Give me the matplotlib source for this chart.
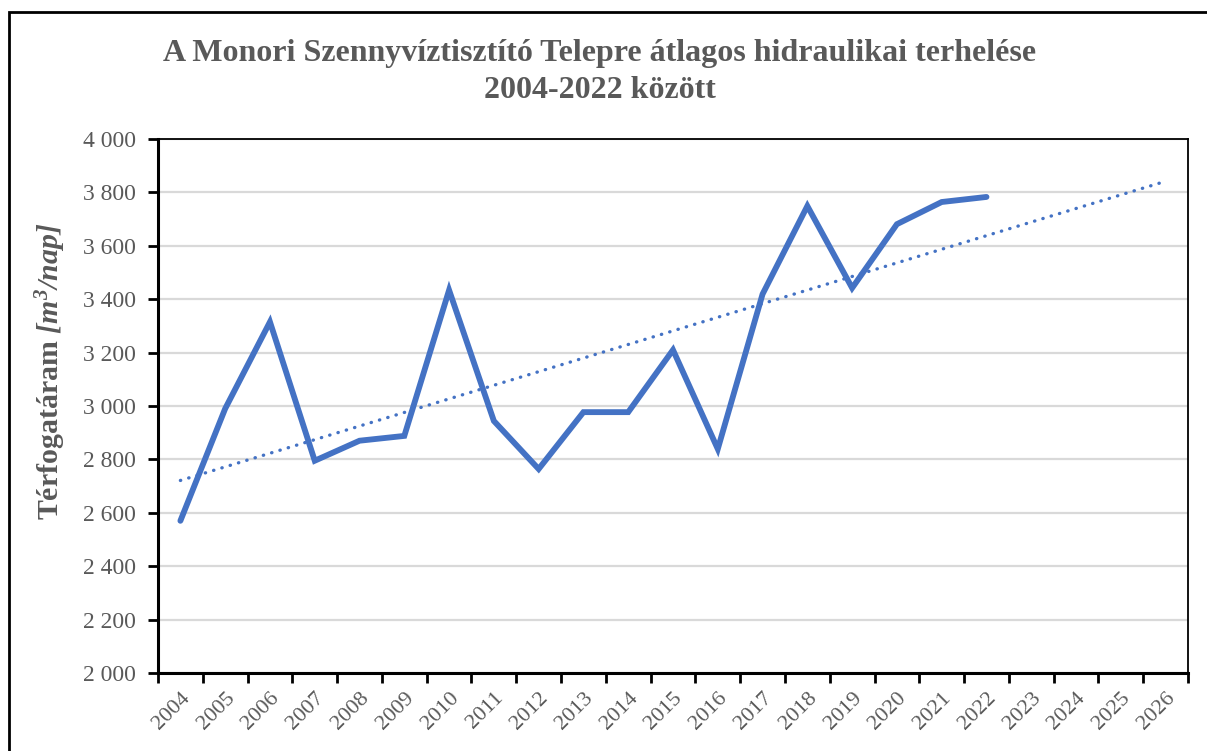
import numpy as np
import matplotlib
matplotlib.use('Agg')
import matplotlib.pyplot as plt
from matplotlib.patches import Rectangle
from matplotlib.ticker import FuncFormatter

# --- Data ---
years = [str(y) for y in range(2004, 2027)]
flow = [2570, 2990, 3315, 2795, 2870, 2888, 3434, 2944, 2764, 2977,
        2977, 3210, 2839, 3419, 3749, 3442, 3681, 3764, 3783]
y_ticks = [2000, 2200, 2400, 2600, 2800, 3000, 3200, 3400, 3600, 3800, 4000]

LINE_COLOR = '#4472C4'
TEXT_COLOR = '#595959'
GRID_COLOR = '#D9D9D9'

plt.rcParams['font.family'] = ['Liberation Serif', 'DejaVu Serif']
plt.rcParams['mathtext.fontset'] = 'custom'
plt.rcParams['mathtext.rm'] = 'Liberation Serif'
plt.rcParams['mathtext.it'] = 'Liberation Serif:italic'
plt.rcParams['mathtext.bf'] = 'Liberation Serif:bold'
plt.rcParams['mathtext.bfit'] = 'Liberation Serif:bold:italic'

fig = plt.figure(figsize=(12.07, 7.51), dpi=100)
ax = fig.add_axes([158 / 1207, 1 - 673 / 751, (1188 - 158) / 1207, (673 - 139) / 751])

x = np.arange(len(flow))
ax.plot(x, flow, color=LINE_COLOR, linewidth=4.2, solid_capstyle='round',
        solid_joinstyle='miter', zorder=3)

# linear trend, extended to the last category
coef = np.polyfit(x, flow, 1)
xt = np.arange(len(years))
ax.plot(xt, np.polyval(coef, xt), color=LINE_COLOR, linewidth=2.4,
        linestyle=(0, (0.1, 2.5)), dash_capstyle='round', zorder=2)

# axes
ax.set_xlim(-0.5, len(years) - 0.5)
ax.set_ylim(2000, 4000)
ax.set_yticks(y_ticks)
ax.yaxis.set_major_formatter(FuncFormatter(lambda v, p: f"{int(v):,}".replace(',', ' ')))
ax.grid(axis='y', color=GRID_COLOR, linewidth=1.6)
ax.set_axisbelow(True)

ax.set_xticks(np.arange(-0.5, len(years), 1.0))
ax.set_xticklabels([])
ax.set_xticks(xt, minor=True)
ax.set_xticklabels(years, minor=True, rotation=45, ha='right', rotation_mode='anchor')
ax.tick_params(axis='x', which='major', direction='out', length=7, width=2, color='black')
ax.tick_params(axis='x', which='minor', length=0, pad=11, labelsize=16, labelcolor=TEXT_COLOR)
ax.tick_params(axis='y', direction='out', length=7, width=2, color='black',
               labelsize=17, labelcolor=TEXT_COLOR, pad=9)

for side in ['left', 'bottom']:
    ax.spines[side].set_linewidth(2.2)
for side in ['top', 'right']:
    ax.spines[side].set_linewidth(1.3)

ax.set_ylabel(r'Térfogatáram $\mathbfit{[m^3/nap]}$', fontsize=21.5, fontweight='bold',
              color=TEXT_COLOR)
ax.yaxis.set_label_coords(-0.087, 0.564)

fig.text(0.497, 0.904, 'A Monori Szennyvíztisztító Telepre átlagos hidraulikai terhelése\n2004-2022 között',
         ha='center', va='center', fontsize=23, fontweight='bold', color=TEXT_COLOR,
         linespacing=1.34)

# outer chart frame
fig.patches.append(Rectangle((9 / 1207, -0.1), 1.2, 1 - 12 / 751 + 0.1, transform=fig.transFigure,
                             fill=False, edgecolor='black', linewidth=2))

fig.savefig('out.png', dpi=100)
